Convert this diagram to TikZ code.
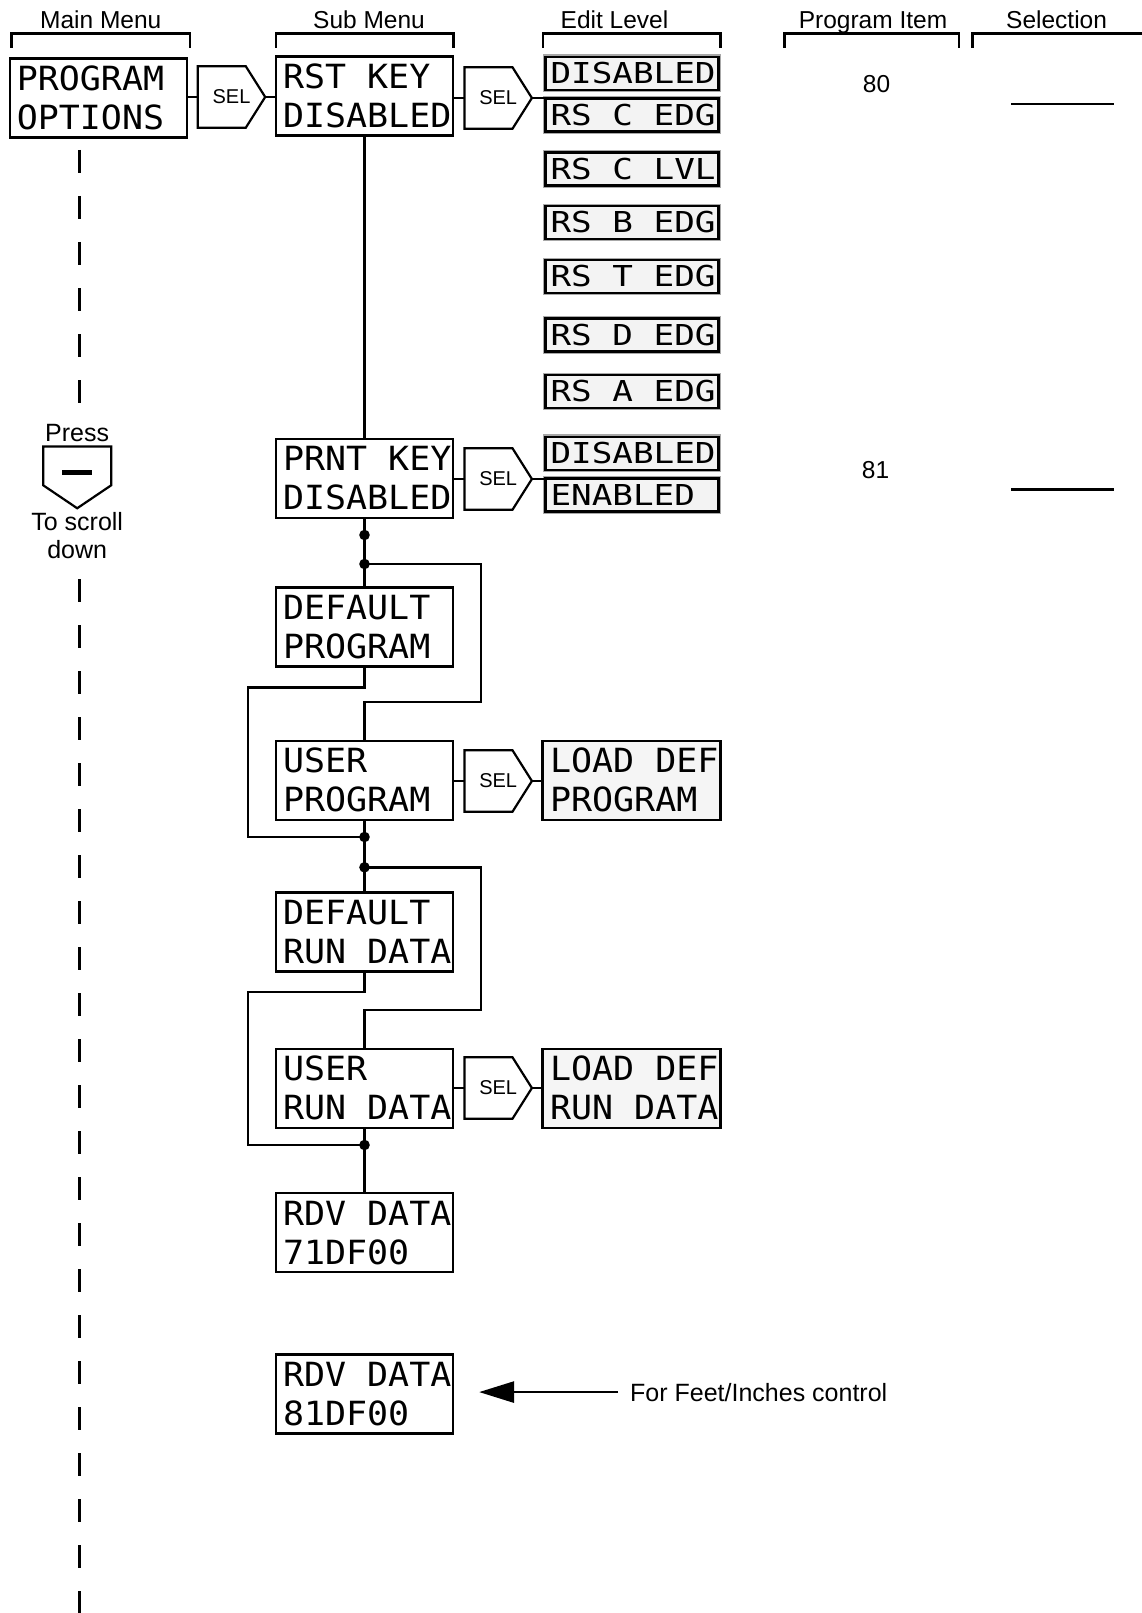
\documentclass[tikz,border=0pt]{standalone}
\usepackage{fontspec}
\setmainfont{Liberation Sans}
\newfontfamily\lcdA[FakeStretch=1.05]{DejaVu Sans Mono}
\newfontfamily\lcdB[FakeStretch=1.19]{DejaVu Sans Mono}
\usetikzlibrary{arrows.meta}
\newcommand\lsp{\phantom{0}}
\definecolor{editfill}{HTML}{F3F3F3}
\definecolor{loadfill}{HTML}{F5F5F5}
\definecolor{rimgray}{HTML}{A8A8A8}
\tikzset{
  menubox/.style={draw, line width=2.2pt, minimum width=177pt, minimum height=79pt, inner sep=0pt, text width=163pt, align=left, font={\lcdA\fontsize{33.3}{39}\selectfont}},
  loadbox/.style={menubox, fill=loadfill, minimum width=178pt},
  editbox/.style={draw=black, line width=2.6pt, fill=editfill, preaction={draw=rimgray, line width=4.8pt}, minimum width=173pt, minimum height=33pt, inner sep=0pt, text width=163pt, align=left, font={\lcdB\fontsize{28.8}{30}\selectfont}},
  selkey/.style={minimum width=67pt, minimum height=61pt, inner sep=0pt, font={\fontsize{20}{22}\selectfont}},
  conn/.style={line width=2.8pt},
  selline/.style={line width=2.2pt, line join=miter},
  hbracket/.style={line width=2.6pt},
  head/.style={font={\fontsize{24.5}{28}\selectfont}, inner sep=0pt, anchor=base},
  notetext/.style={font={\fontsize{25}{28}\selectfont}, inner sep=0pt, anchor=base},
  scrolldash/.style={line width=2.6pt, dash pattern=on 23pt off 23pt},
  jdot/.style={fill=black}
}
\newcommand\selshape[1]{\draw[selline] (#1.north west) -- ([xshift=48pt]#1.north west) -- (#1.east) -- ([xshift=48pt]#1.south west) -- (#1.south west) -- cycle;}
\begin{document}
\begin{tikzpicture}[x=1pt,y=-1pt]
\useasboundingbox (0,0) rectangle (1142,1613);
% headers
\node[head] (hmain) at (100.8,28.5) {Main Menu};
\node[head] (hsub) at (369,28.5) {Sub Menu};
\node[head] (hedit) at (614.5,28.5) {Edit Level};
\node[head] (hitem) at (873,28.5) {Program Item};
\node[head] (hsel) at (1056.6,28.5) {Selection};
\draw[hbracket] (11.7,48) -- (11.7,33.5) -- (190,33.5) -- (190,48);
\draw[hbracket] (276,48) -- (276,33.5) -- (453.3,33.5) -- (453.3,48);
\draw[hbracket] (543,48) -- (543,33.5) -- (720.7,33.5) -- (720.7,48);
\draw[hbracket] (784.7,48) -- (784.7,33.5) -- (959,33.5) -- (959,48);
\draw[hbracket] (972.7,48) -- (972.7,33.5) -- (1142,33.5);
% main menu
\node[menubox] (po) at (98.3,98) {PROGRAM\\OPTIONS};
\node[selkey] (s1) at (231.5,97) {SEL}; \selshape{s1}
\node[menubox] (rst) at (364.5,96) {RST\lsp KEY\\DISABLED};
\node[selkey] (s2) at (498.2,98) {SEL}; \selshape{s2}
% edit level
\node[editbox] (e1) at (632,73.4) {DISABLED};
\node[editbox] (e2) at (632,115) {RS\lsp C\lsp EDG};
\node[editbox] (e3) at (632,169) {RS\lsp C\lsp LVL};
\node[editbox] (e4) at (632,222.5) {RS\lsp B\lsp EDG};
\node[editbox] (e5) at (632,276.5) {RS\lsp T\lsp EDG};
\node[editbox] (e6) at (632,335.2) {RS\lsp D\lsp EDG};
\node[editbox] (e7) at (632,391.5) {RS\lsp A\lsp EDG};
\node[menubox] (prnt) at (364.5,478.3) {PRNT\lsp KEY\\DISABLED};
\node[selkey] (s3) at (498.2,479) {SEL}; \selshape{s3}
\node[editbox] (e8) at (632,453.3) {DISABLED};
\node[editbox] (e9) at (632,495) {ENABLED};
\node[menubox] (defprog) at (364.5,627) {DEFAULT\\PROGRAM};
\node[menubox] (userprog) at (364.5,780.3) {USER\\PROGRAM};
\node[selkey] (s4) at (498.2,781) {SEL}; \selshape{s4}
\node[loadbox] (loadprog) at (631.5,780.3) {LOAD\lsp DEF\\PROGRAM};
\node[menubox] (defrun) at (364.5,932) {DEFAULT\\RUN\lsp DATA};
\node[menubox] (userrun) at (364.5,1088.3) {USER\\RUN\lsp DATA};
\node[selkey] (s5) at (498.2,1088) {SEL}; \selshape{s5}
\node[loadbox] (loadrun) at (631.5,1088.3) {LOAD\lsp DEF\\RUN\lsp DATA};
\node[menubox] (rdva) at (364.5,1232.5) {RDV\lsp DATA\\71DF00};
\node[menubox] (rdvb) at (364.5,1394) {RDV\lsp DATA\\81DF00};
% SEL connectors
\draw[conn] (s1.west -| po.east) -- (s1.west);
\draw[conn] (s1.east) -- (s1.east -| rst.west);
\draw[conn] (s2.west -| rst.east) -- (s2.west);
\draw[conn] (s2.east) -- (s2.east -| e2.west);
\draw[conn] (s3.west -| prnt.east) -- (s3.west);
\draw[conn] (s3.east) -- (s3.east -| e9.west);
\draw[conn] (s4.west -| userprog.east) -- (s4.west);
\draw[conn] (s4.east) -- (s4.east -| loadprog.west);
\draw[conn] (s5.west -| userrun.east) -- (s5.west);
\draw[conn] (s5.east) -- (s5.east -| loadrun.west);
% sub menu chain
\coordinate (d1) at (364.5,535);
\coordinate (d2) at (364.5,564);
\coordinate (d3) at (364.5,837);
\coordinate (d4) at (364.5,867.3);
\coordinate (d5) at (364.5,1145);
\draw[conn] (rst.south) -- (prnt.north);
\draw[conn] (prnt.south) -- (d1) -- (d2) -- (defprog.north);
\draw[conn] (d2) -| (481,702) -| (userprog.north);
\draw[conn] (defprog.south) |- (248,687.3) |- (d3);
\draw[conn] (userprog.south) -- (d3) -- (d4) -- (defrun.north);
\draw[conn] (d4) -| (481,1010) -| (userrun.north);
\draw[conn] (defrun.south) |- (248,992) |- (d5);
\draw[conn] (userrun.south) -- (d5) -- (rdva.north);
\foreach \d in {d1,d2,d3,d4,d5} \fill[jdot] (\d) circle (5.3);
% program item / selection
\node[head] (n80) at (876.5,93) {80};
\node[head] (n81) at (875.5,478) {81};
\coordinate (la1) at (1011,104);
\coordinate (la2) at (1114,104);
\coordinate (lb1) at (1011,489.7);
\coordinate (lb2) at (1114,489.7);
\draw[conn] (la1) -- (la2);
\draw[conn] (lb1) -- (lb2);
% press key
\node[notetext] (press) at (77.2,441.7) {Press};
\node[minimum width=67.7pt, minimum height=38.3pt, inner sep=0pt] (key) at (77.2,465.9) {};
\draw[selline] (key.south west) -- (key.north west) -- (key.north east) -- (key.south east) -- ([yshift=-23pt]key.south) -- cycle;
\draw[line width=5.5pt] ([xshift=-15.2pt,yshift=-6.6pt]key.center) -- ([xshift=15.2pt,yshift=-6.6pt]key.center);
\node[notetext] (scrolltxt) at (77.2,530) {To scroll};
\node[notetext] (downtxt) at (77.2,558) {down};
\coordinate (dash1a) at (79.5,150);
\coordinate (dash1b) at (79.5,404);
\coordinate (dash2a) at (79.5,579);
\coordinate (dash2b) at (79.5,1613);
\draw[scrolldash] (dash1a) -- (dash1b);
\draw[scrolldash] (dash2a) -- (dash2b);
% feet/inches note
\node[notetext, anchor=base west] (feet) at (630,1401) {For Feet/Inches control};
\draw[conn, shorten >=25pt, -{Triangle[length=35pt,width=21pt]}] ([xshift=-12pt]feet.west) -- (feet.west -| rdvb.east);
\end{tikzpicture}
\end{document}
